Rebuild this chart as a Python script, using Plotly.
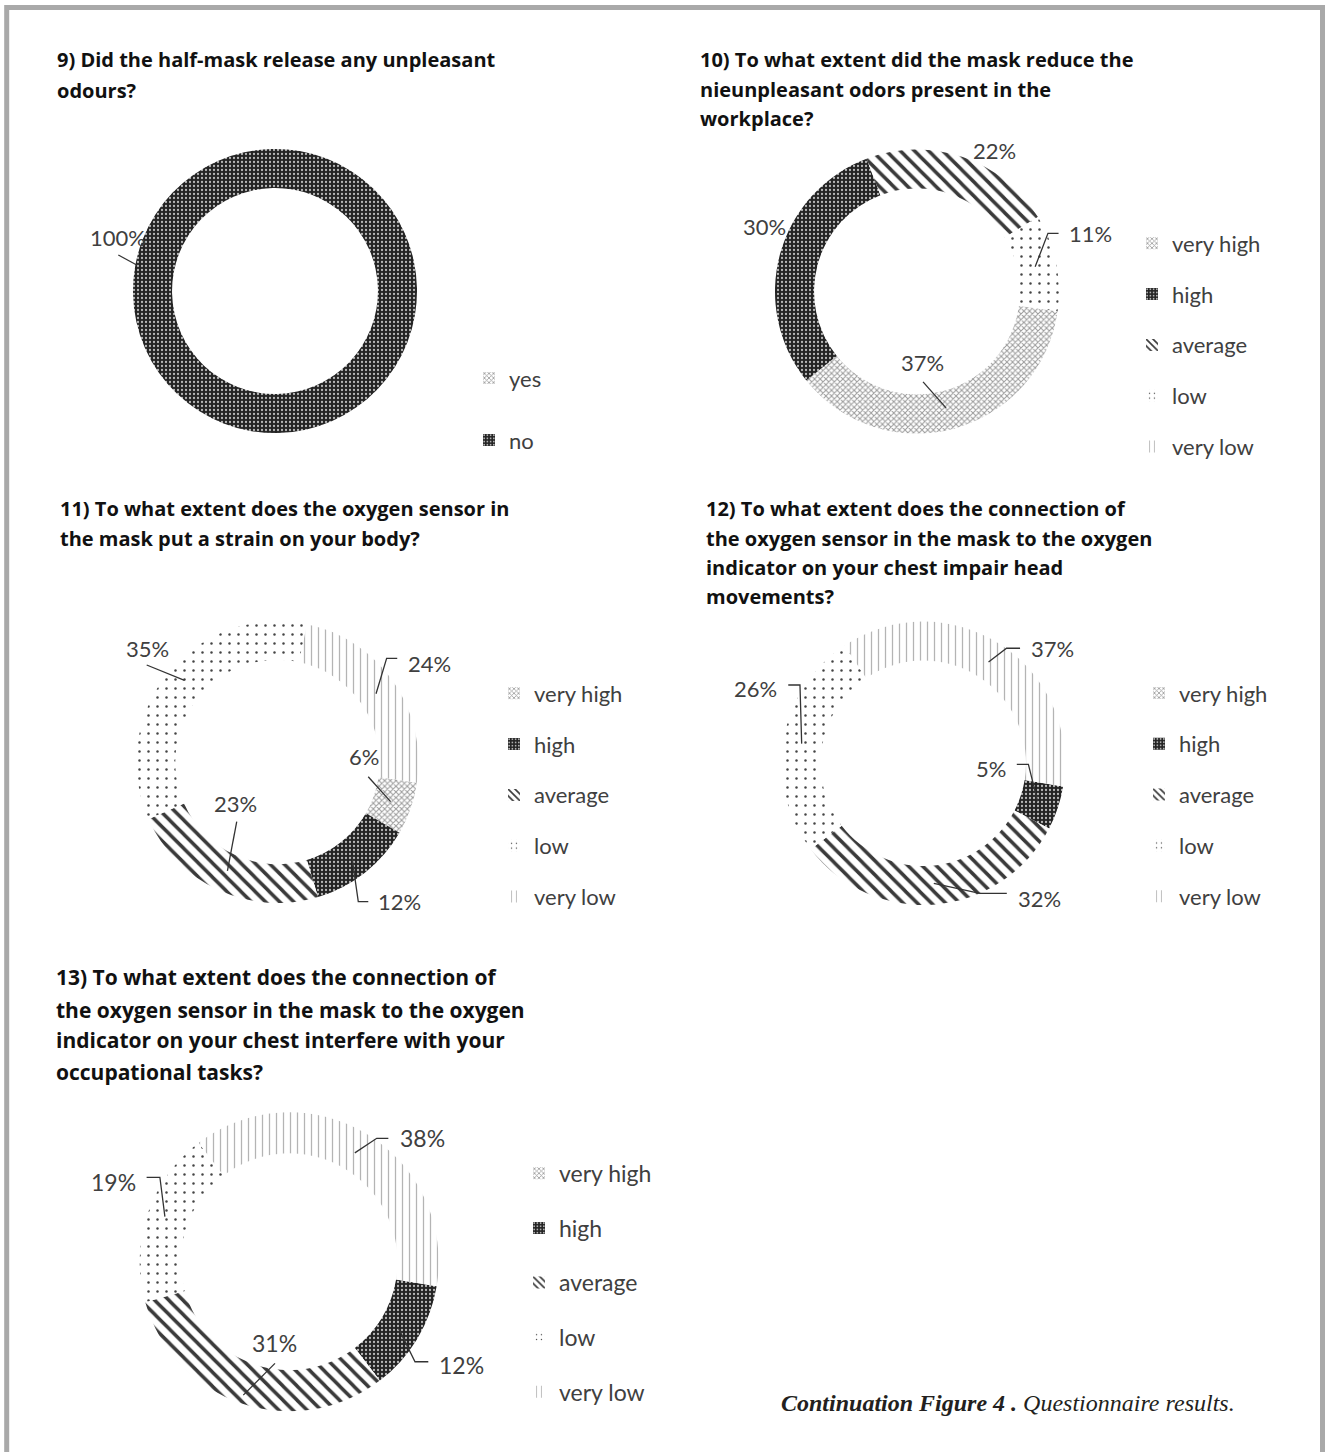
import math
import plotly.graph_objects as go

W, H = 1325, 1452

# ---------------- data ----------------
levels = ["very high", "high", "average", "low", "very low"]
yes_no = ["yes", "no"]

q9_values = [0, 100]
q10_values = [37, 30, 22, 11, 0]
q11_values = [6, 12, 23, 35, 24]
q12_values = [0, 5, 32, 26, 37]
q13_values = [0, 12, 31, 19, 38]

q9_title = ["9) Did the half-mask release any unpleasant", "odours?"]
q10_title = ["10) To what extent did the mask reduce the",
             "nieunpleasant odors present in the", "workplace?"]
q11_title = ["11) To what extent does the oxygen sensor in",
             "the mask put a strain on your body?"]
q12_title = ["12) To what extent does the connection of",
             "the oxygen sensor in the mask to the oxygen",
             "indicator on your chest impair head", "movements?"]
q13_title = ["13) To what extent does the connection of",
             "the oxygen sensor in the mask to the oxygen",
             "indicator on your chest interfere with your",
             "occupational tasks?"]

caption_bold = "Continuation Figure 4 ."
caption_rest = " Questionnaire results."

# ---------------- styles ----------------
PAT = {
    "very high": dict(shape="x", fg="#9c9c9c", bg="#ffffff", size=4, sol=0.45),
    "high": dict(shape=".", fg="#b8b8b8", bg="#232323", size=4, sol=0.25),
    "average": dict(shape="\\", fg="#3a3a3a", bg="#ffffff", size=10, sol=0.35),
    "low": dict(shape=".", fg="#444444", bg="#ffffff", size=9, sol=0.06),
    "very low": dict(shape="|", fg="#b4b4b4", bg="#ffffff", size=7, sol=0.18),
}
PAT["yes"] = PAT["very high"]
PAT["no"] = PAT["high"]

TEXT_FONT = "Lato, 'Open Sans', sans-serif"
TITLE_FONT = "'Open Sans', Lato, sans-serif"
TEXT_COLOR = "#404040"

# layout of each panel: centre/radius (px), first-slice angle, title placement,
# legend placement, label offsets relative to the leader-line anchor
charts = [
    dict(cats=yes_no, vals=q9_values, title=q9_title,
         cx=275, cy=291, r=142, rot=100,
         tx=55, ty=[60, 90], tsize=20,
         lx=469, ly=378, lfont=22, lgap=30.4,
         lab={"no": ((-38, -33), [(-19.4, -5), (-37.8, -15)])}),
    dict(cats=levels, vals=q10_values, title=q10_title,
         cx=917, cy=291.5, r=142, rot=98,
         tx=698, ty=[60, 89.3, 118.3], tsize=20,
         lx=1132, ly=243.3, lfont=22, lgap=19.2,
         lab={"very high": ((-27, -45), [(-3, 0), (-26, -26)]),
              "high": ((-36.5, -33), []),
              "average": ((39, -27), []),
              "low": ((55, -33.5), [(0, 0), (12.8, -33.5), (23.4, -33.5)])}),
    dict(cats=levels, vals=q11_values, title=q11_title,
         cx=277.5, cy=762, r=141, rot=98.5,
         tx=58, ty=[508.3, 538.3], tsize=20,
         lx=494, ly=693.3, lfont=22, lgap=19.2,
         lab={"very high": ((-26.7, -45), [(0, 0), (-22.4, -24.9)]),
              "high": ((47.5, 45.6), [(0, 0), (6.5, 45.6), (16.5, 45.6)]),
              "average": ((7.6, -67.6), [(0, 0), (9.3, -49.2)]),
              "low": ((-37, -38), [(0, -6), (-37.8, -21.4)]),
              "very low": ((53.9, -30.4), [(0, 0), (10.6, -35.4), (21.2, -35.4)])}),
    dict(cats=levels, vals=q12_values, title=q12_title,
         cx=923.3, cy=763.3, r=141.7, rot=99.4,
         tx=704, ty=[508.3, 538.3, 567.3, 596.7], tsize=20,
         lx=1139, ly=693, lfont=22, lgap=19.2,
         lab={"high": ((-46.5, -33), [(0, 0), (-9.2, -37), (-20.8, -37)]),
              "average": ((105.4, 15.1), [(0, 0), (46, 10), (73, 10)]),
              "low": ((-48.5, -55.3), [(-2.8, 0), (-4.5, -58.6), (-16.2, -58.6)]),
              "very low": ((64, -13.8), [(0, 0), (18, -13.8), (31.5, -13.8)])}),
    dict(cats=levels, vals=q13_values, title=q13_title,
         cx=289.2, cy=1261.7, r=149.5, rot=99.5,
         tx=54, ty=[976.7, 1010, 1040, 1071.7], tsize=21,
         lx=519, ly=1173.3, lfont=23, lgap=21.7,
         lab={"high": ((63, 37.7), [(0, 0), (17, 34.4), (30.3, 34.4)]),
              "average": ((26, -38.8), [(-5.6, 12.9), (26.1, -18.8)]),
              "low": ((-55.5, -39.7), [(-3.8, -4.7), (-8.8, -44.1), (-22.1, -44.1)]),
              "very low": ((67.7, -14.6), [(0, 0), (21.9, -14.6), (33.5, -14.6)])}),
]

HOLE = 0.725
TIP = 0.85


def px(x, y):
    return x / W, 1 - y / H


fig = go.Figure()
annotations = []
shapes = []
legends = {}

for k, ch in enumerate(charts):
    cats, vals = ch["cats"], ch["vals"]
    cx, cy, r = ch["cx"], ch["cy"], ch["r"]
    x0, y1 = px(cx - r, cy - r)
    x1, y0 = px(cx + r, cy + r)
    pats = [PAT[c] for c in cats]
    fig.add_trace(go.Pie(
        labels=cats, values=vals, hole=HOLE, sort=False,
        direction="clockwise", rotation=ch["rot"],
        domain=dict(x=[x0, x1], y=[y0, y1]),
        textinfo="none", hoverinfo="label+percent", showlegend=False,
        marker=dict(colors=[p["bg"] for p in pats], line=dict(width=0),
                    pattern=dict(shape=[p["shape"] for p in pats],
                                 fgcolor=[p["fg"] for p in pats],
                                 bgcolor=[p["bg"] for p in pats],
                                 size=[p["size"] for p in pats],
                                 solidity=[p["sol"] for p in pats],
                                 fillmode="replace")),
    ))

    # legend (one entry per category, spaced like the original);
    # the bar traces carry no data, they only provide the legend keys
    lname = "legend" if k == 0 else f"legend{k + 1}"
    for c in cats:
        p = PAT[c]
        fig.add_trace(go.Bar(
            x=[None], y=[None], name=c, legend=lname, legendgroup=f"g{k}-{c}",
            showlegend=True, hoverinfo="skip",
            marker=dict(color=p["bg"], line=dict(width=0),
                        pattern=dict(shape=p["shape"], fgcolor=p["fg"],
                                     bgcolor=p["bg"], size=min(p["size"], 6),
                                     solidity=p["sol"], fillmode="replace")),
        ))
    lx, ly = px(ch["lx"], ch["ly"] - (5 + (ch["lfont"] * 1.3 + 3) / 2))
    legends[lname] = dict(
        x=lx, y=ly, xanchor="left", yanchor="top", orientation="v",
        bgcolor="rgba(0,0,0,0)", borderwidth=0,
        font=dict(family=TEXT_FONT, size=ch["lfont"], color=TEXT_COLOR),
        tracegroupgap=ch["lgap"], itemclick=False, itemdoubleclick=False,
    )

    # titles
    for line, ty in zip(ch["title"], ch["ty"]):
        tx, typ = px(ch["tx"], ty)
        annotations.append(dict(
            x=tx, y=typ, xref="paper", yref="paper", xanchor="left",
            yanchor="middle", showarrow=False, text=f"<b>{line}</b>",
            font=dict(family=TITLE_FONT, size=ch["tsize"], color="#111111")))

    # data labels with leader lines
    total = sum(vals)
    cum = 0
    for c, v in zip(cats, vals):
        if v == 0:
            cum += v
            continue
        mid = math.radians(ch["rot"] + 360 * (cum + v / 2) / total)
        cum += v
        tipx = cx + TIP * r * math.sin(mid)
        tipy = cy - TIP * r * math.cos(mid)
        (tdx, tdy), leader = ch["lab"][c]
        ax_, ay_ = px(tipx + tdx, tipy + tdy)
        annotations.append(dict(
            x=ax_, y=ay_, xref="paper", yref="paper", xanchor="center",
            yanchor="middle", showarrow=False, text=f"{round(100 * v / total)}%",
            font=dict(family=TEXT_FONT, size=22 if k < 4 else 23, color=TEXT_COLOR)))
        if leader:
            pts = [px(tipx + dx, tipy + dy) for dx, dy in leader]
            path = "M " + " L ".join(f"{a:.5f},{b:.5f}" for a, b in pts)
            shapes.append(dict(type="path", path=path, xref="paper", yref="paper",
                               line=dict(color="#333333", width=1.3)))

# caption
cx_, cy_ = px(1007.5, 1403)
annotations.append(dict(
    x=cx_, y=cy_, xref="paper", yref="paper", xanchor="center", yanchor="middle",
    showarrow=False,
    text=f"<b><i>{caption_bold}</i></b><i>{caption_rest}</i>",
    font=dict(family="'Liberation Serif', 'Times New Roman', serif", size=24,
              color="#231f20")))

# page frame
bx0, by0 = px(6.7, 7.5)
bx1, _ = px(1322.5, 0)
shapes.append(dict(type="rect", xref="paper", yref="paper",
                   x0=bx0, x1=bx1, y0=-0.05, y1=by0,
                   line=dict(color="#a9a9a9", width=5), fillcolor="rgba(0,0,0,0)"))

fig.update_layout(
    width=W, height=H, autosize=False,
    margin=dict(l=0, r=0, t=0, b=0, pad=0),
    paper_bgcolor="white", plot_bgcolor="rgba(0,0,0,0)",
    xaxis=dict(visible=False, domain=[0, 0.01]),
    yaxis=dict(visible=False, domain=[0, 0.01]),
    annotations=annotations, shapes=shapes,
    **legends,
)

fig.write_html("out.html")
